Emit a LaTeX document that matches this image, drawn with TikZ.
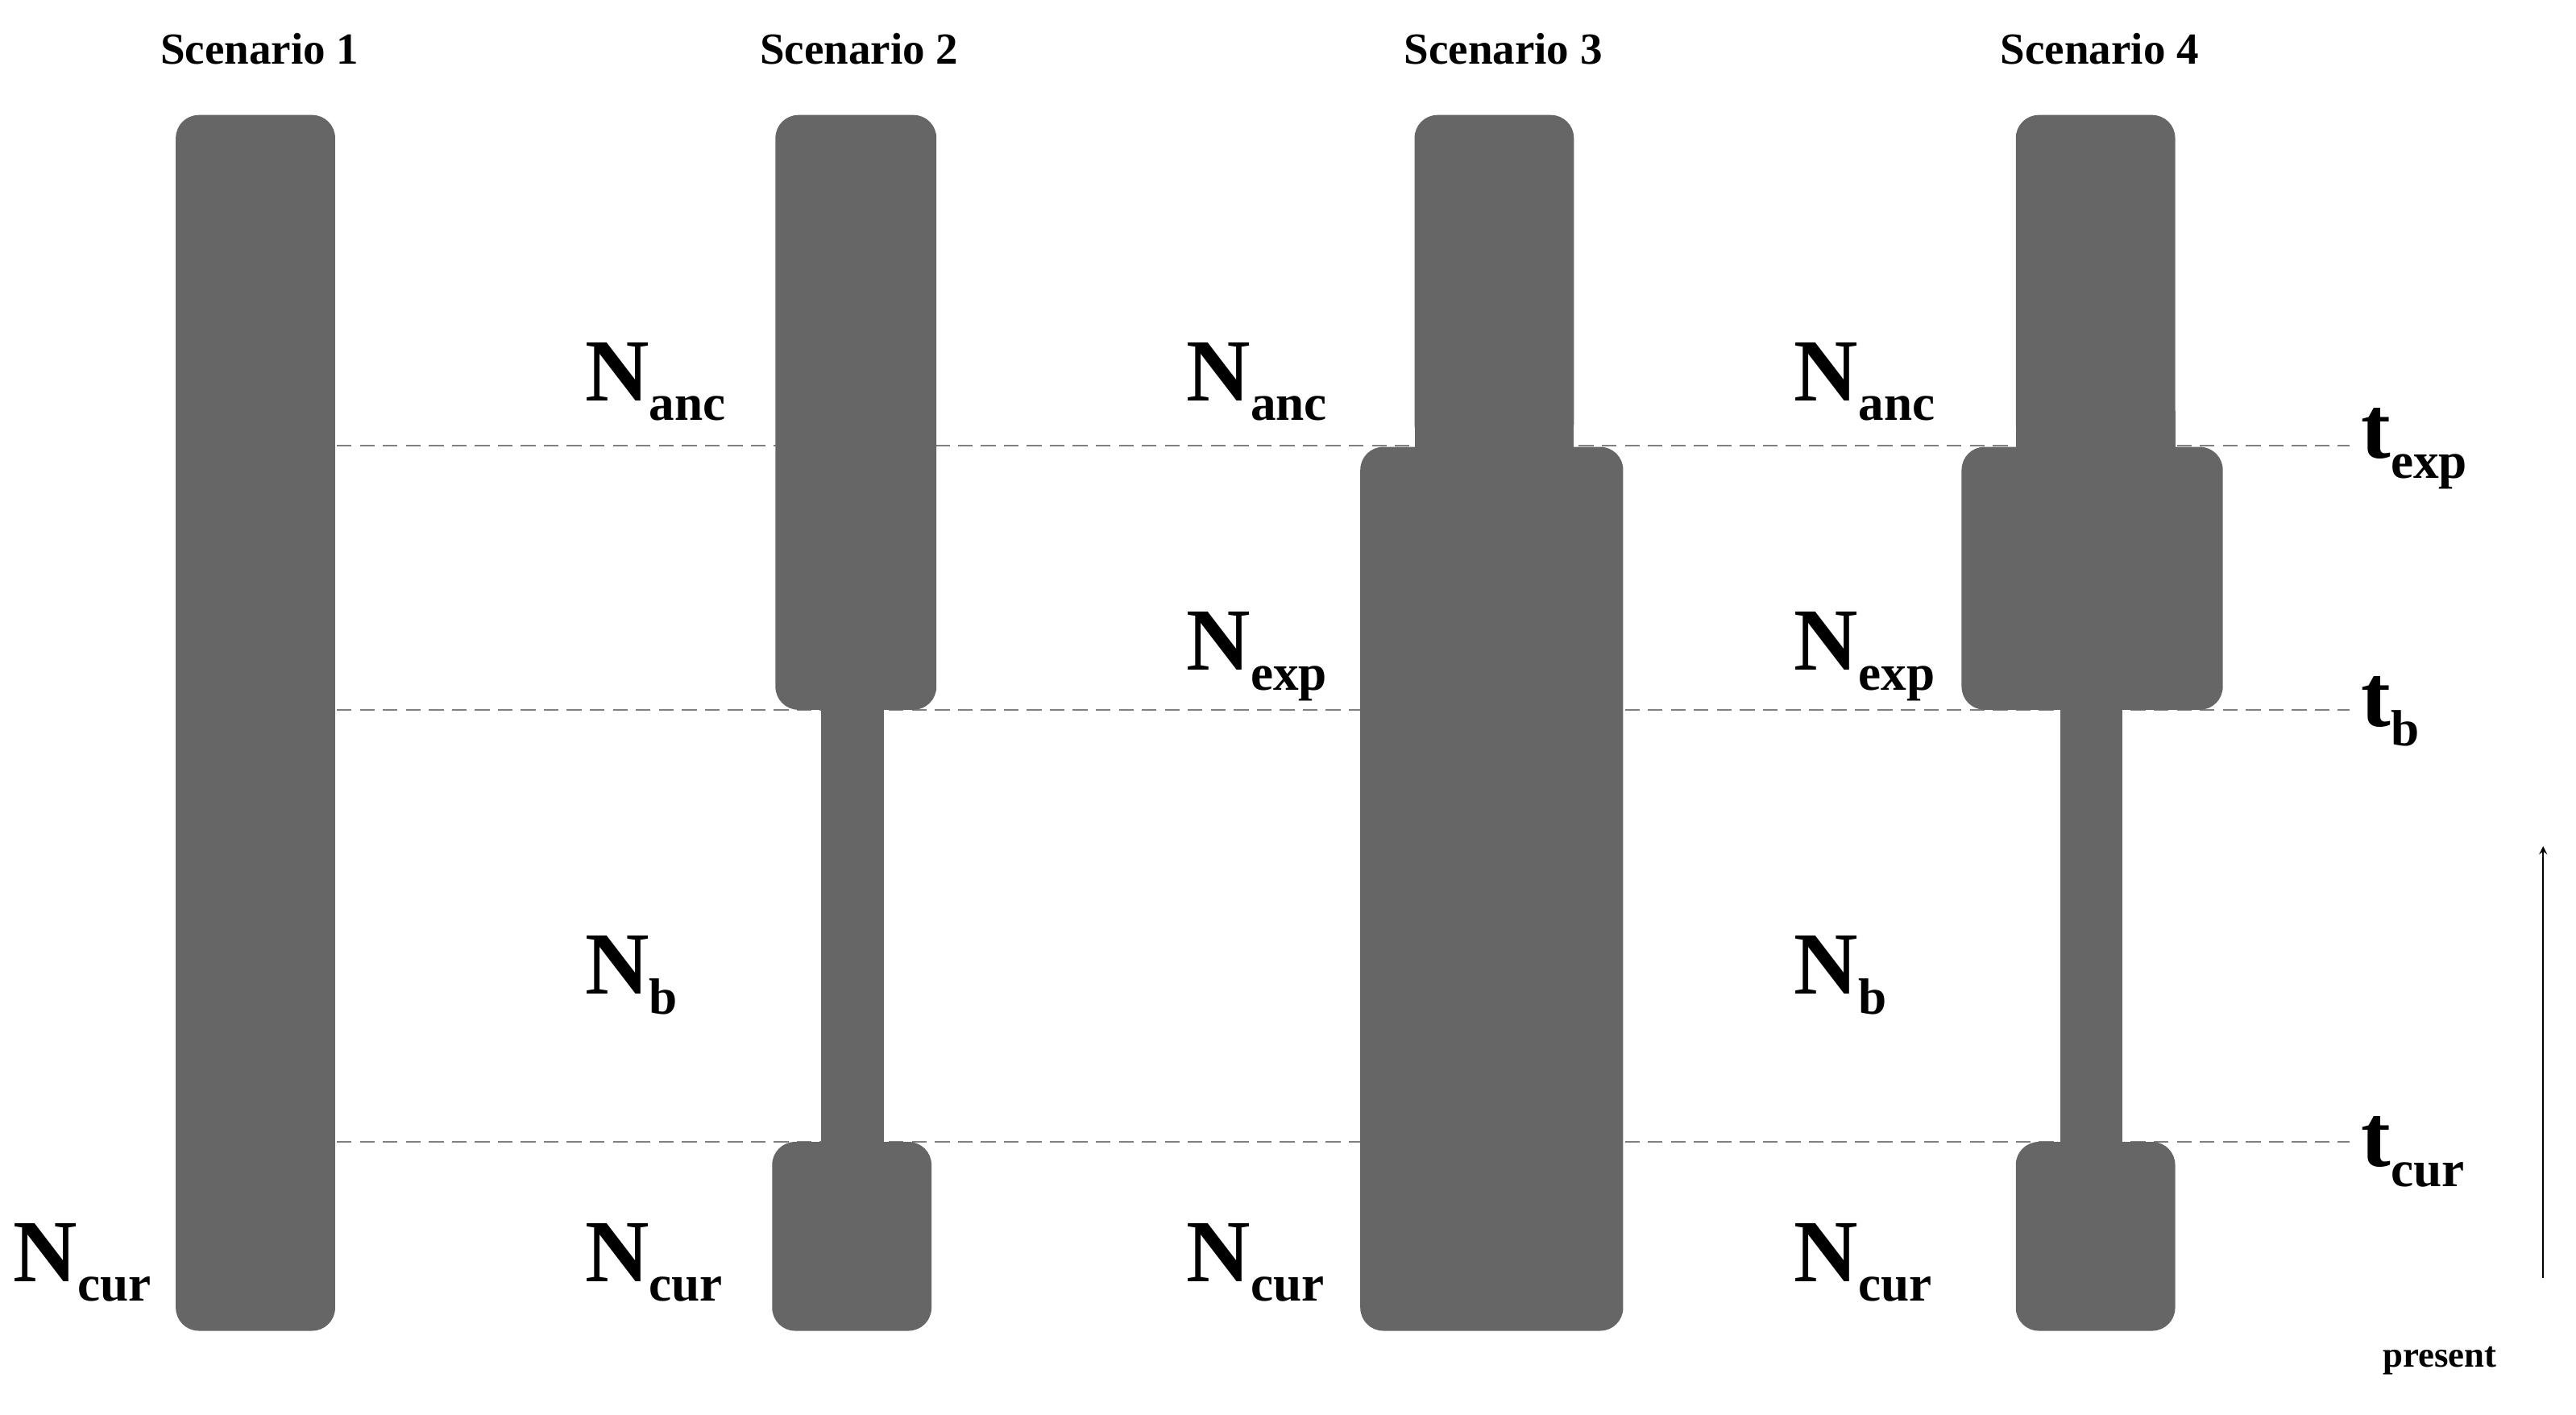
\documentclass[tikz,border=0pt]{standalone}
\usepackage{fontspec}
\setmainfont{Liberation Serif}
\begin{document}
\begin{tikzpicture}[x=1pt,y=-1pt,
  bar/.style={fill=black!60,draw=none,rounded corners=14pt},
  thin/.style={fill=black!60,draw=none},
  guide/.style={draw=black!50,dashed,dash pattern=on 9pt off 5pt,line width=1pt},
  ttl/.style={font=\bfseries\fontsize{27}{30}\selectfont,inner sep=0pt},
  lab/.style={font=\bfseries,inner sep=0pt,anchor=base west}]
\useasboundingbox (0,0) rectangle (1568,861);
\newcommand{\Nlab}[1]{{\fontsize{54}{60}\selectfont N}\raisebox{-12pt}{\fontsize{31}{34}\selectfont #1}}
\newcommand{\tlab}[1]{{\fontsize{54}{60}\selectfont t}\raisebox{-12pt}{\fontsize{31}{34}\selectfont #1}}
% guides
\coordinate (g1a) at (107,271); \coordinate (g1b) at (1430,271);
\coordinate (g2a) at (107,432); \coordinate (g2b) at (1430,432);
\coordinate (g3a) at (107,695); \coordinate (g3b) at (1430,695);
\draw[guide] (g1a) -- (g1b);
\draw[guide] (g2a) -- (g2b);
\draw[guide] (g3a) -- (g3b);
% titles
\node[ttl] (s1) at (158,30) {Scenario 1};
\node[ttl] (s2) at (523,30) {Scenario 2};
\node[ttl] (s3) at (915,30) {Scenario 3};
\node[ttl] (s4) at (1278,30) {Scenario 4};
% scenario 1
\fill[bar] (107,70) rectangle (204,810);
% scenario 2
\fill[thin] (500,420) rectangle (538,705);
\fill[bar] (472,70) rectangle (570,432);
\fill[bar] (470,695) rectangle (567,810);
% scenario 3
\fill[thin] (861,250) rectangle (958,290);
\fill[bar] (861,70) rectangle (958,272);
\fill[bar] (828,272) rectangle (988,810);
% scenario 4
\fill[thin] (1227,250) rectangle (1324,290);
\fill[thin] (1254,420) rectangle (1292,705);
\fill[bar] (1227,70) rectangle (1324,272);
\fill[bar] (1194,272) rectangle (1353,432);
\fill[bar] (1227,695) rectangle (1324,810);
% N labels
\node[lab] (a2) at (356,244) {\Nlab{anc}};
\node[lab] (a3) at (722,244) {\Nlab{anc}};
\node[lab] (a4) at (1092,244) {\Nlab{anc}};
\node[lab] (e3) at (722,408) {\Nlab{exp}};
\node[lab] (e4) at (1092,408) {\Nlab{exp}};
\node[lab] (b2) at (356,605) {\Nlab{b}};
\node[lab] (b4) at (1092,605) {\Nlab{b}};
\node[lab] (c1) at (8,780) {\Nlab{cur}};
\node[lab] (c2) at (356,780) {\Nlab{cur}};
\node[lab] (c3) at (722,780) {\Nlab{cur}};
\node[lab] (c4) at (1092,780) {\Nlab{cur}};
% t labels
\node[lab] (te) at (1437,279) {\tlab{exp}};
\node[lab] (tb) at (1437,442) {\tlab{b}};
\node[lab] (tc) at (1437,710) {\tlab{cur}};
% time arrow
\coordinate (ar0) at (1548,778); \coordinate (ar1) at (1548,515);
\draw[-stealth,line width=1.2pt] (ar0) -- (ar1);
\node[ttl,font=\bfseries\fontsize{22}{24}\selectfont] (pr) at (1485,828) {present};
\end{tikzpicture}
\end{document}
